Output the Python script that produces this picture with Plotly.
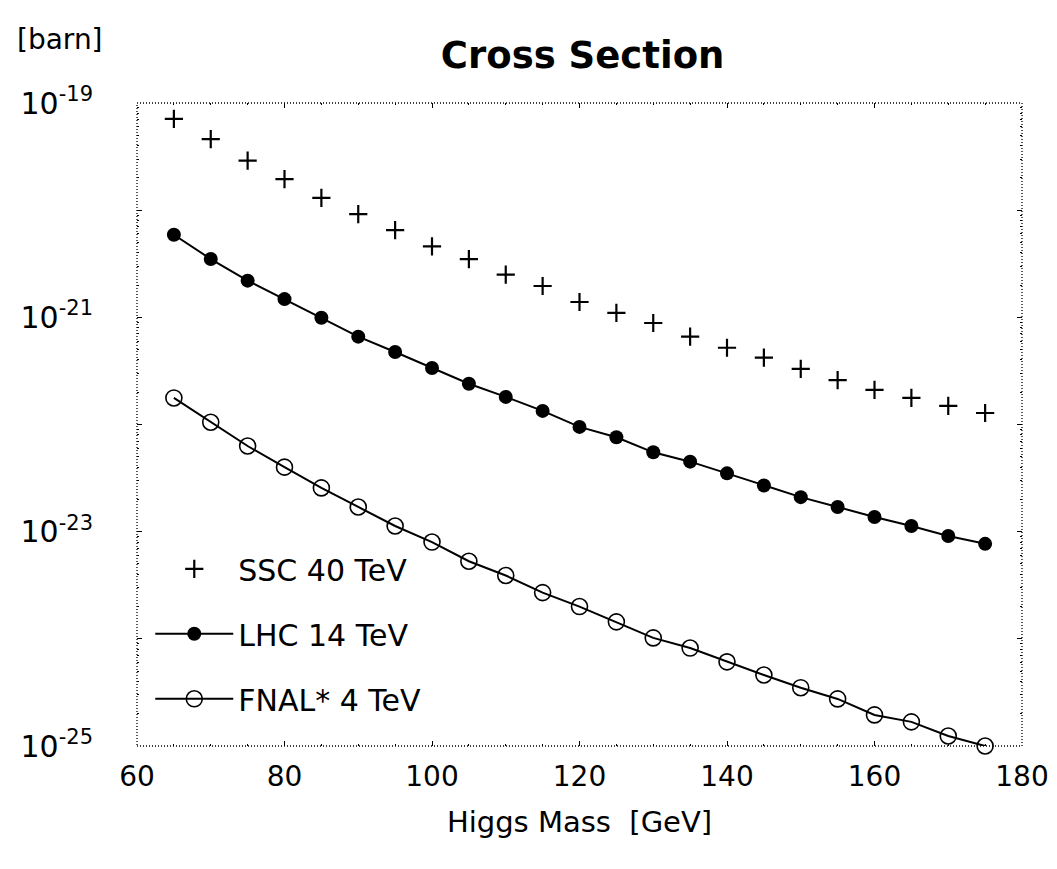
import plotly.graph_objects as go

# Higgs mass [GeV]
higgs_mass = [65, 70, 75, 80, 85, 90, 95, 100, 105, 110, 115, 120,
              125, 130, 135, 140, 145, 150, 155, 160, 165, 170, 175]

# Cross sections [barn]
ssc_40tev = [7.1e-20, 4.6e-20, 2.9e-20, 1.95e-20, 1.3e-20, 9.2e-21, 6.5e-21, 4.6e-21,
             3.5e-21, 2.5e-21, 1.96e-21, 1.39e-21, 1.1e-21, 8.85e-22, 6.6e-22, 5.2e-22,
             4.2e-22, 3.3e-22, 2.6e-22, 2.1e-22, 1.77e-22, 1.49e-22, 1.28e-22]
lhc_14tev = [5.9e-21, 3.5e-21, 2.2e-21, 1.48e-21, 9.9e-22, 6.6e-22, 4.75e-22, 3.37e-22,
             2.4e-22, 1.81e-22, 1.34e-22, 9.5e-23, 7.6e-23, 5.5e-23, 4.5e-23, 3.5e-23,
             2.7e-23, 2.1e-23, 1.7e-23, 1.37e-23, 1.13e-23, 9.1e-24, 7.7e-24]
fnal_4tev = [1.77e-22, 1.05e-22, 6.3e-23, 4.0e-23, 2.56e-23, 1.7e-23, 1.13e-23, 8.0e-24,
             5.3e-24, 3.9e-24, 2.7e-24, 2.0e-24, 1.44e-24, 1.02e-24, 8.2e-25, 6.1e-25,
             4.6e-25, 3.5e-25, 2.75e-25, 1.95e-25, 1.68e-25, 1.24e-25, 1.0e-25]

series_names = ["SSC 40 TeV", "LHC 14 TeV", "FNAL* 4 TeV"]

x_ticks = [60, 80, 100, 120, 140, 160, 180]
y_exponents = [-25, -24, -23, -22, -21, -20, -19]
y_labelled = [-25, -23, -21, -19]

FONT = "DejaVu Sans"

fig = go.Figure()

fig.add_trace(go.Scatter(
    x=higgs_mass, y=ssc_40tev, name=series_names[0], mode="markers",
    marker=dict(symbol="cross-thin", size=13, color="black",
                line=dict(color="black", width=2.2)),
    legendgroup="a", cliponaxis=False))
fig.add_trace(go.Scatter(
    x=higgs_mass, y=lhc_14tev, name=series_names[1], mode="lines+markers",
    line=dict(color="black", width=2),
    marker=dict(symbol="circle", size=14, color="black"),
    legendgroup="b", cliponaxis=False))
fig.add_trace(go.Scatter(
    x=higgs_mass, y=fnal_4tev, name=series_names[2], mode="lines+markers",
    line=dict(color="black", width=2),
    marker=dict(symbol="circle-open", size=16, color="black",
                line=dict(color="black", width=1.6)),
    legendgroup="c", cliponaxis=False))

y_tickvals = [10.0 ** e for e in y_exponents]
y_ticktext = [("10<sup>%d</sup>" % e) if e in y_labelled else "" for e in y_exponents]
y_minor = [k * 10.0 ** e for e in y_exponents[:-1] for k in range(2, 10)]

fig.update_layout(
    width=1041, height=853, autosize=False,
    margin=dict(l=129, r=27, t=95, b=115, autoexpand=False),
    paper_bgcolor="white", plot_bgcolor="white",
    font=dict(family=FONT, color="black"),
    title=dict(text="<b>Cross Section</b>", x=0.552, xanchor="center",
               y=0.945, yanchor="middle",
               font=dict(family=FONT, size=37, color="black")),
    showlegend=True,
    legend=dict(x=0.015, y=0.316, xanchor="left", yanchor="top",
                bgcolor="rgba(0,0,0,0)", borderwidth=0,
                font=dict(family=FONT, size=30, color="black"),
                tracegroupgap=23, itemwidth=78),
    xaxis=dict(range=[60, 180], tickvals=x_ticks, ticks="inside", ticklen=5,
               tickcolor="black", tickwidth=1, showgrid=False, zeroline=False,
               showline=True, linecolor="rgba(0,0,0,0)", mirror="ticks",
               ticklabelstandoff=5, ticklabeloverflow="allow", automargin=False,
               tickfont=dict(family=FONT, size=28, color="black"),
               minor=dict(ticks="inside", ticklen=2, dtick=5, tick0=60,
                          tickcolor="black", showgrid=False),
               title=dict(text="Higgs Mass  [GeV]", standoff=20,
                          font=dict(family=FONT, size=29, color="black"))),
    yaxis=dict(type="log", range=[-25, -19], tickvals=y_tickvals,
               ticktext=y_ticktext, ticks="inside", ticklen=5,
               tickcolor="black", tickwidth=1, showgrid=False, zeroline=False,
               showline=True, linecolor="rgba(0,0,0,0)", mirror="ticks",
               ticklabelstandoff=37, ticklabeloverflow="allow", automargin=False,
               tickfont=dict(family=FONT, size=30, color="black"),
               minor=dict(ticks="inside", ticklen=2, tickvals=y_minor,
                          tickcolor="black", showgrid=False)),
)

# dotted frame around the plot area
fig.add_shape(type="rect", xref="x domain", yref="y domain",
              x0=0, y0=0, x1=1, y1=1,
              line=dict(color="black", width=1.3, dash="1px,2px"),
              layer="above")

fig.add_annotation(text="[barn]", xref="paper", yref="paper",
                   x=-0.138, y=1.098, xanchor="left", yanchor="middle",
                   showarrow=False,
                   font=dict(family=FONT, size=28, color="black"))

fig.write_html("out.html")
